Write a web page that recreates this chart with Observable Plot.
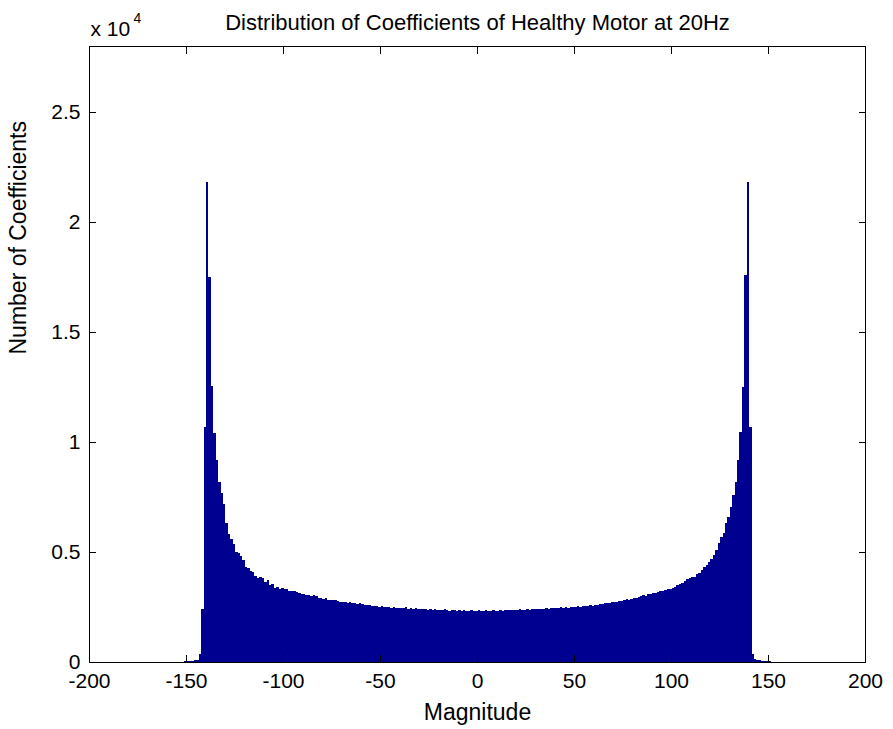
<!DOCTYPE html>
<html><head><meta charset="utf-8">
<script src="https://cdn.jsdelivr.net/npm/d3@7"></script>
<script src="https://cdn.jsdelivr.net/npm/@observablehq/plot@0.6"></script>
<style>body{margin:0;background:#fff;}</style>
</head><body><div id="chart"></div>
<script>
const title = "Distribution of Coefficients of Healthy Motor at 20Hz";
const xLabel = "Magnitude";
const yLabel = "Number of Coefficients";
const binStart = -154.7;
const binWidth = 1.25;
const counts = [
  0,0,20,30,30,50,60,80,110,360,
  2400,10700,21800,17500,12550,10400,9180,8200,7700,7200,
  6300,5800,5600,5360,5000,4950,4800,4640,4330,4270,
  4140,4100,3900,3800,3850,3800,3650,3750,3500,3550,
  3360,3400,3330,3360,3300,3340,3250,3210,3230,3180,
  3150,3090,3100,3050,3060,3020,3040,2980,2920,2930,
  2880,2890,2820,2830,2800,2810,2770,2750,2710,2730,
  2700,2710,2670,2690,2650,2660,2630,2610,2580,2600,
  2560,2540,2550,2520,2530,2500,2510,2490,2470,2500,
  2450,2470,2440,2450,2480,2430,2440,2420,2450,2410,
  2420,2390,2430,2380,2400,2370,2390,2360,2380,2350,
  2420,2360,2340,2370,2350,2340,2360,2330,2350,2340,
  2320,2350,2330,2340,
  2350,2330,2340,2360,2330,2340,
  2350,2320,2340,2360,2340,2370,2350,2380,2360,2370,
  2350,2390,2370,2380,2400,2380,2410,2390,2420,2400,
  2430,2410,2440,2420,2450,2440,2470,2450,2480,2460,
  2490,2470,2500,2490,2510,2530,2510,2540,2530,2560,
  2580,2560,2610,2600,2640,2620,2670,2690,2660,2720,
  2740,2720,2780,2760,2820,2850,2830,2880,2910,2900,
  2960,2990,3030,3010,3070,3100,3140,3130,3190,3220,
  3250,3270,3300,3310,3380,3420,3500,3550,3600,3700,
  3770,3800,3850,3880,4000,4040,4200,4330,4400,4560,
  4700,4860,5090,5400,5700,5860,6300,6600,7060,7600,
  8200,9200,10450,12500,17600,21800,10700,360,140,100,
  80,60,50,40,30,20,0,0
];
const xTicks = [-200,-150,-100,-50,0,50,100,150,200];
const yTicks = [0,5000,10000,15000,20000,25000];
const yTickLabels = ["0","0.5","1","1.5","2","2.5"];
const yDomain = [0, 28000];
const xDomain = [-200, 200];

const bins = counts.map((c, i) => ({x1: binStart + i * binWidth, x2: binStart + (i + 1) * binWidth, count: c}));
const font = "'Liberation Sans', Arial, Helvetica, sans-serif";

const chart = Plot.plot({
  width: 893, height: 729,
  marginTop: 46, marginBottom: 67, marginLeft: 89, marginRight: 28,
  style: {fontFamily: font, fontSize: "21px", color: "black", background: "white"},
  x: {domain: xDomain},
  y: {domain: yDomain},
  marks: [
    Plot.rectY(bins, {x1: "x1", x2: "x2", y: "count", fill: "#000090", shapeRendering: "crispEdges"}),
    Plot.frame({stroke: "black"}),
    Plot.axisX(xTicks, {anchor: "bottom", tickSize: 0, tickPadding: 11, tickFormat: d => String(d), label: null, fontSize: 21}),
    Plot.axisX(xTicks, {anchor: "bottom", tickSize: 7, dy: -7, tickFormat: () => "", label: null}),
    Plot.axisX(xTicks, {anchor: "top", tickSize: 7, dy: 7, tickFormat: () => "", label: null}),
    Plot.axisY(yTicks, {anchor: "left", tickSize: 0, tickPadding: 9, tickFormat: d => yTickLabels[yTicks.indexOf(d)], label: null, fontSize: 21}),
    Plot.axisY(yTicks, {anchor: "left", tickSize: 7, dx: 7, tickFormat: () => "", label: null}),
    Plot.axisY(yTicks, {anchor: "right", tickSize: 7, dx: -7, tickFormat: () => "", label: null}),
    Plot.text([title], {text: d => d, frameAnchor: "top", lineAnchor: "top", dy: -32, fontSize: 22}),
    Plot.text([xLabel], {text: d => d, frameAnchor: "bottom", lineAnchor: "top", dy: 41, fontSize: 23}),
    Plot.text([yLabel], {text: d => d, frameAnchor: "left", rotate: -90, dx: -71, fontSize: 23}),
    Plot.text(["x 10"], {text: d => d, frameAnchor: "top-left", textAnchor: "start", lineAnchor: "top", dx: 1, dy: -25, fontSize: 21}),
    Plot.text(["4"], {text: d => d, frameAnchor: "top-left", textAnchor: "start", lineAnchor: "top", dx: 44, dy: -33, fontSize: 14})
  ]
});
document.getElementById("chart").appendChild(chart);
</script>
</body></html>
